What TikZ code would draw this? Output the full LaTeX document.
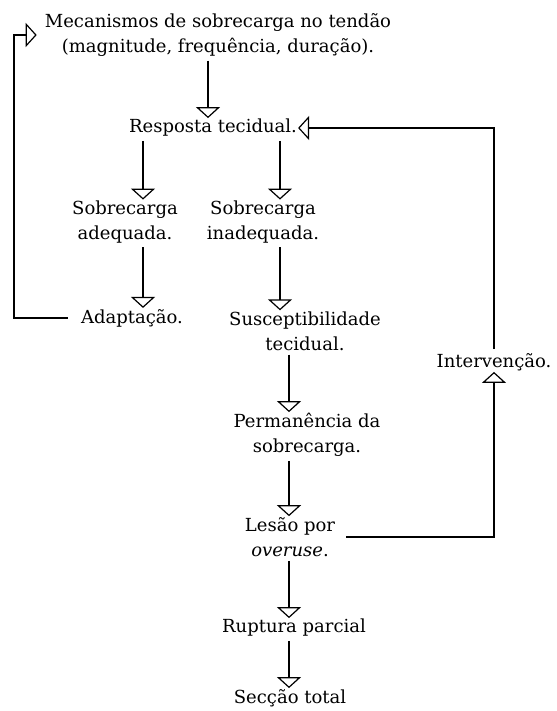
\documentclass[tikz,border=0pt]{standalone}
\usepackage{fontspec}
\setmainfont{DejaVu Serif}
\usetikzlibrary{arrows.meta}

\begin{document}
\begin{tikzpicture}[x=1pt,y=-1pt,
                txt/.style={font=\fontsize{18}{25}\selectfont,align=center,inner sep=1pt},
                flow/.style={line width=1.2pt,-{Triangle[open,width=24pt,length=11pt,line width=1.2pt]},shorten <=3pt}]
                \useasboundingbox (0,0) rectangle (556,711);

                \coordinate (colL) at (14,0);
                \coordinate (colA) at (143,0);
                \coordinate (colB) at (280,0);
                \coordinate (colC) at (289,0);
                \coordinate (colM) at (208,0);

                \node[txt] (mech) at (218,35) {Mecanismos de sobrecarga no tendão\\(magnitude, frequência, duração).};
                \node[txt] (resp) at (213,128) {Resposta tecidual.};
                \node[txt] (adeq) at (125,222) {Sobrecarga\\adequada.};
                \node[txt] (inad) at (263,222) {Sobrecarga\\inadequada.};
                \node[txt] (adapt) at (132,318) {Adaptação.};
                \node[txt] (susc) at (305,331) {Susceptibilidade\\tecidual.};
                \node[txt] (perm) at (307,435) {Permanência da\\sobrecarga.};
                \node[txt] (lesao) at (290,537) {Lesão por\\\textit{overuse}.};
                \node[txt] (rupt) at (294,628) {Ruptura parcial};
                \node[txt] (secc) at (290,698) {Secção total};
                \node[txt] (interv) at (494,362) {Intervenção.};

                \draw[flow] (mech.south -| colM) -- (resp.north -| colM);
                \draw[flow] (resp.south -| colA) -- (adeq.north -| colA);
                \draw[flow] (resp.south -| colB) -- (inad.north -| colB);
                \draw[flow] (adeq.south -| colA) -- (adapt.north -| colA);
                \draw[flow] (inad.south -| colB) -- (susc.north -| colB);
                \draw[flow] (susc.south -| colC) -- (perm.north -| colC);
                \draw[flow] (perm.south -| colC) -- (lesao.north -| colC);
                \draw[flow] (lesao.south -| colC) -- (rupt.north -| colC);
                \draw[flow] (rupt.south -| colC) -- (secc.north -| colC);

                \draw[flow,shorten <=12pt,shorten >=7pt] (adapt.west) -- (adapt.west -| colL) |- (mech.west);
                \draw[flow,shorten <=10pt] (lesao.east) -| (interv.south);
                \draw[flow] (interv.north) |- (resp.east);
\end{tikzpicture}
\end{document}
